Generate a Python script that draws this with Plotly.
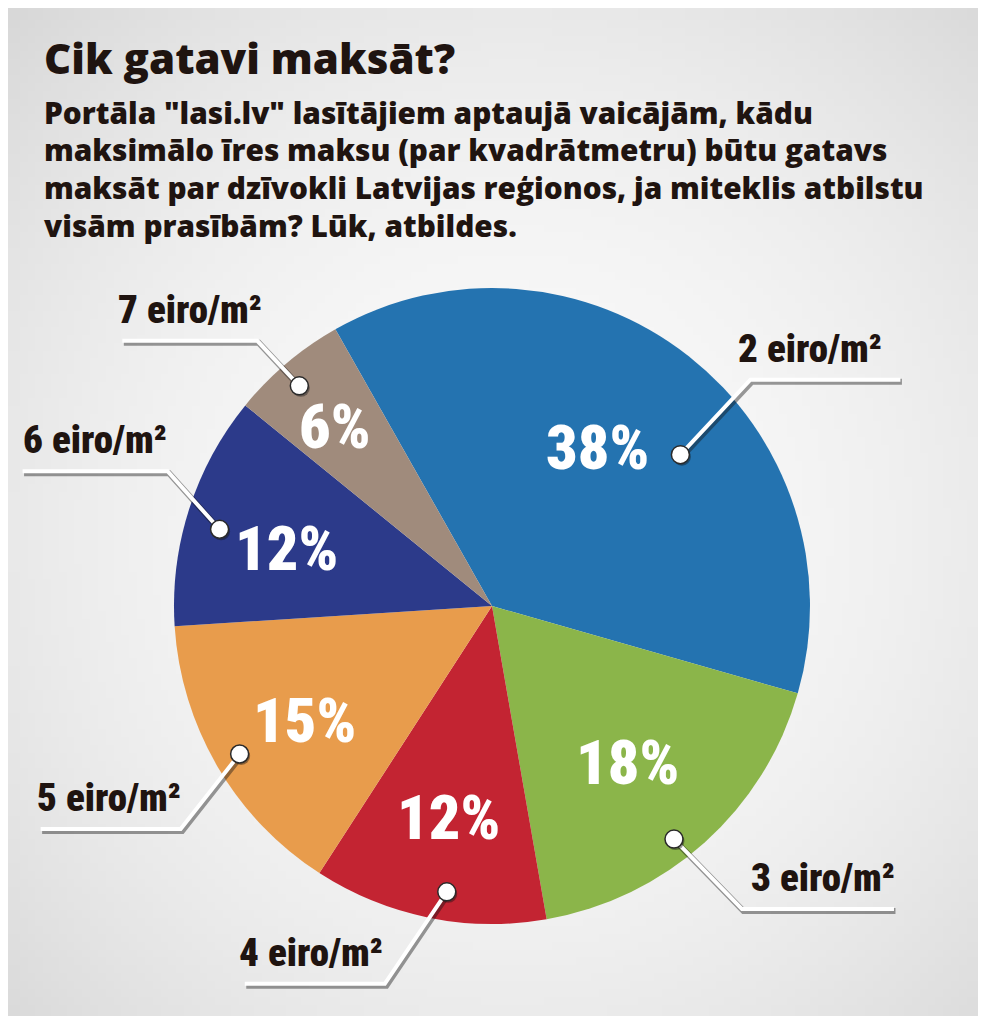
import base64
import struct
import zlib
import math

import numpy as np
import plotly.graph_objects as go

# ---------------- data ----------------
categories = ["2 eiro/m²", "3 eiro/m²", "4 eiro/m²", "5 eiro/m²", "6 eiro/m²", "7 eiro/m²"]
shares = [38, 18, 12, 15, 12, 6]
pct_labels = ["38%", "18%", "12%", "15%", "12%", "6%"]

title_text = "Cik gatavi maksāt?"
subtitle_lines = [
    "Portāla \"lasi.lv\" lasītājiem aptaujā vaicājām, kādu",
    "maksimālo īres maksu (par kvadrātmetru) būtu gatavs",
    "maksāt par dzīvokli Latvijas reģionos, ja miteklis atbilstu",
    "visām prasībām? Lūk, atbildes.",
]

# ---------------- style ----------------
colors = ["#2473b0", "#8bb54a", "#c32432", "#e89c4c", "#2c3a8a", "#a08b7c"]
PAGE_OFF = 8                      # browser body margin
FW, FH = 986 - 2 * PAGE_OFF, 1024 - 2 * PAGE_OFF
CX, CY, R = 492, 606, 318         # pie centre / radius in page pixels
ROT = -29.5
TEXT_DARK = "#1f1410"
NARROW = "Roboto Condensed, Open Sans Condensed, sans-serif"
HEAD = "Open Sans, Lato, sans-serif"

pct_r = [0.60, 0.65, 0.68, 0.69, 0.67, 0.75]
pct_da = [-4.5, 1, 0, -1, -2, -1]
dot_r = [0.76, 0.93, 0.91, 0.92, 0.89, 0.92]
dot_da = [13, 4, -2.5, 0, -2, -1]
elbow = [(70, -75), (68, 70), (-62, 92), (-59, 75), (-52, -58), (-42, -45)]
seg = [150, 152, -140, -140, -145, -135]
label_dx = [-15, 5, -4, -2, 0, 0]


# ---------------- background gradient image ----------------
def png_data_uri(arr):
    h, w = arr.shape
    raw = b"".join(b"\x00" + arr[i].tobytes() for i in range(h))

    def chunk(tag, data):
        c = struct.pack(">I", len(data)) + tag + data
        return c + struct.pack(">I", zlib.crc32(tag + data) & 0xFFFFFFFF)

    png = b"\x89PNG\r\n\x1a\n"
    png += chunk(b"IHDR", struct.pack(">IIBBBBB", w, h, 8, 0, 0, 0, 0))
    png += chunk(b"IDAT", zlib.compress(raw, 9))
    png += chunk(b"IEND", b"")
    return "data:image/png;base64," + base64.b64encode(png).decode()


gw, gh = 124, 128
yy, xx = np.mgrid[0:gh, 0:gw]
dx = (xx / (gw - 1) - 0.52) / 0.62
dy = (yy / (gh - 1) - 0.52) / 0.62
d2 = np.clip(dx * dx + dy * dy, 0, 2)
grad = 250 - 24 * d2
bg = np.clip(grad, 0, 255).astype(np.uint8)
bg_uri = png_data_uri(bg)


# ---------------- geometry helpers ----------------
total = sum(shares)


def pos(angle_deg, frac):
    a = math.radians(angle_deg)
    return CX + frac * R * math.sin(a), CY - frac * R * math.cos(a)


mids = []
acc = ROT
for v in shares:
    span = v / total * 360.0
    mids.append(acc + span / 2)
    acc += span

fig = go.Figure()

fig.add_trace(go.Pie(
    labels=categories,
    values=shares,
    sort=False,
    direction="clockwise",
    rotation=ROT,
    marker=dict(colors=colors, line=dict(width=0)),
    textinfo="none",
    hoverinfo="label+percent",
    showlegend=False,
    domain=dict(x=[(CX - R - PAGE_OFF) / FW, (CX + R - PAGE_OFF) / FW],
                y=[(FH + PAGE_OFF - CY - R) / FH, (FH + PAGE_OFF - CY + R) / FH]),
))

fig.add_trace(go.Scatter(x=[], y=[], xaxis="x", yaxis="y", showlegend=False, hoverinfo="skip"))

shapes = []
annotations = []

for i, cat in enumerate(categories):
    px, py = pos(mids[i] + pct_da[i], pct_r[i])
    annotations.append(dict(
        x=px, y=py, xref="x", yref="y", text=pct_labels[i], showarrow=False,
        font=dict(family=NARROW, size=62, color="white", weight=900),
        xanchor="center", yanchor="middle",
    ))
    dx0, dy0 = pos(mids[i] + dot_da[i], dot_r[i])
    ex, ey = dx0 + elbow[i][0], dy0 + elbow[i][1]
    fx, fy = ex + seg[i], ey
    path = f"M{dx0},{dy0} L{ex},{ey} L{fx},{fy}"
    shadow = f"M{dx0+1.5},{dy0+2} L{ex+1.5},{ey+2} L{fx+1.5},{fy+2}"
    shapes.append(dict(type="path", path=shadow, xref="x", yref="y", layer="above",
                       line=dict(color="rgba(20,20,20,0.42)", width=6)))
    shapes.append(dict(type="path", path=path, xref="x", yref="y", layer="above",
                       line=dict(color="white", width=4)))
    rr = 9
    shapes.append(dict(type="circle", xref="x", yref="y", layer="above",
                       x0=dx0 - rr + 1.5, x1=dx0 + rr + 1.5, y0=dy0 - rr + 2, y1=dy0 + rr + 2,
                       fillcolor="rgba(20,20,20,0.42)", line=dict(width=0)))
    shapes.append(dict(type="circle", xref="x", yref="y", layer="above",
                       x0=dx0 - rr, x1=dx0 + rr, y0=dy0 - rr, y1=dy0 + rr,
                       fillcolor="white", line=dict(color="#2a2a2a", width=1.5)))
    annotations.append(dict(
        x=(ex + fx) / 2 + label_dx[i], y=ey - 6, xref="x", yref="y", text=cat, showarrow=False,
        font=dict(family=NARROW, size=39, color=TEXT_DARK, weight=900),
        xanchor="center", yanchor="bottom",
    ))

annotations.append(dict(
    x=42, y=57, xref="x", yref="y", text=title_text, showarrow=False,
    font=dict(family=HEAD, size=42, color=TEXT_DARK, weight=800),
    xanchor="left", yanchor="middle",
))
for j, line in enumerate(subtitle_lines):
    annotations.append(dict(
        x=42, y=112 + 37.7 * j, xref="x", yref="y", text=line, showarrow=False,
        font=dict(family=HEAD, size=29.8, color=TEXT_DARK, weight=800),
        xanchor="left", yanchor="middle",
    ))

fig.update_layout(
    width=FW, height=FH,
    margin=dict(l=0, r=0, t=0, b=0),
    paper_bgcolor="#e6e6e6",
    plot_bgcolor="rgba(0,0,0,0)",
    xaxis=dict(range=[PAGE_OFF, PAGE_OFF + FW], visible=False, fixedrange=True),
    yaxis=dict(range=[PAGE_OFF + FH, PAGE_OFF], visible=False, fixedrange=True),
    shapes=shapes,
    annotations=annotations,
    images=[dict(source=bg_uri, xref="paper", yref="paper", x=0, y=1, sizex=1, sizey=1,
                 xanchor="left", yanchor="top", sizing="stretch", layer="below")],
    showlegend=False,
)

fig.write_html("out.html")
